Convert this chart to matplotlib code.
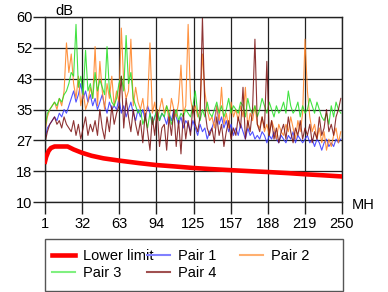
import numpy as np
import matplotlib
matplotlib.use("Agg")
import matplotlib.pyplot as plt
from matplotlib.patches import Rectangle

plt.rcParams["font.family"] = ["Liberation Sans", "DejaVu Sans"]

# frequency grid of the pair traces (MHz)
freq = np.arange(1, 250, 2)

pair1 = [
    27, 30, 31, 32, 33, 32, 34, 33, 35, 34,
    36, 38, 40, 37, 39, 42, 38, 40, 37, 39,
    36, 38, 35, 37, 39, 36, 34, 37, 35, 36,
    35, 38, 34, 36, 33, 35, 37, 34, 32, 35,
    33, 35, 32, 36, 34, 31, 33, 35, 32, 34,
    33, 31, 34, 32, 35, 33, 31, 33, 30, 32,
    31, 29, 32, 30, 28, 31, 29, 30, 27, 29,
    30, 32, 36, 31, 33, 30, 32, 29, 31, 28,
    30, 28, 31, 29, 27, 30, 28, 29, 27, 28,
    27, 29, 28, 26, 28, 27, 29, 27, 26, 28,
    27, 26, 28, 27, 29, 26, 28, 27, 26, 27,
    28, 26, 27, 25, 27, 26, 24, 26, 27, 25,
    26, 25, 27, 26, 27,
]
pair2 = [
    29, 33, 35, 36, 37, 35, 38, 36, 40, 53,
    45, 50, 42, 38, 44, 36, 40, 35, 37, 41,
    38, 52, 36, 48, 40, 35, 42, 38, 44, 36,
    40, 37, 57, 42, 38, 40, 54, 36, 41, 37,
    35, 38, 33, 36, 53, 34, 37, 32, 35, 38,
    34, 36, 32, 38, 35, 33, 37, 47, 34, 36,
    58, 38, 34, 36, 33, 35, 50, 40, 35, 32,
    33, 30, 36, 32, 41, 31, 34, 30, 37, 33,
    35, 32, 36, 33, 41, 30, 34, 32, 36, 31,
    30, 33, 29, 31, 28, 32, 30, 27, 31, 29,
    28, 31, 29, 33, 30, 27, 32, 29, 34, 54,
    40, 33, 29, 31, 27, 30, 26, 29, 24, 27,
    25, 28, 30, 26, 29,
]
pair3 = [
    30, 34, 35, 36, 37, 36, 38, 37, 39, 40,
    42, 45, 44, 58, 41, 44, 39, 51, 40, 42,
    38, 45, 40, 43, 41, 39, 52, 40, 37, 36,
    38, 42, 44, 40, 55, 42, 45, 38, 36, 34,
    35, 31, 33, 30, 34, 31, 33, 35, 32, 34,
    33, 36, 34, 31, 33, 35, 32, 34, 33, 35,
    34, 33, 36, 40, 34, 32, 35, 33, 37, 34,
    33, 35, 37, 34, 36, 33, 35, 38, 34, 36,
    35, 34, 37, 36, 33, 38, 35, 34, 36, 33,
    35, 38, 36, 34, 37, 35, 33, 36, 34, 35,
    37, 34, 40, 36, 34, 35, 37, 33, 36, 34,
    35, 38, 36, 34, 37, 35, 33, 32, 34, 31,
    36, 33, 37, 35, 34,
]
pair4 = [
    26, 29, 31, 32, 33, 31, 32, 30, 33, 31,
    30, 29, 32, 28, 31, 27, 30, 33, 28, 31,
    29, 32, 28, 35, 30, 27, 33, 29, 36, 31,
    34, 36, 44, 30, 38, 33, 29, 35, 31, 28,
    32, 26, 34, 29, 24, 33, 28, 35, 25, 30,
    31, 24, 33, 28, 35, 25, 32, 23, 34, 27,
    32, 28, 36, 31, 29, 33, 60, 35, 30, 28,
    30, 26, 33, 28, 31, 25, 29, 32, 27, 30,
    28, 33, 30, 41, 27, 32, 29, 35, 54, 31,
    29, 33, 30, 48, 28, 32, 27, 30, 26, 29,
    31, 27, 33, 29, 26, 30, 28, 32, 27, 30,
    28, 31, 26, 29, 27, 33, 28, 30, 35, 29,
    31, 28, 33, 35, 38,
]

limit_freq = [1, 2, 4, 6, 9, 14, 20, 25, 32, 40, 50, 63, 80, 94, 110,
              125, 140, 157, 175, 188, 205, 219, 235, 250]
limit_db = [20.9, 22.2, 23.8, 24.6, 25.0, 25.0, 25.0, 24.2, 23.3, 22.5,
            21.8, 21.2, 20.5, 20.0, 19.6, 19.2, 18.9, 18.6, 18.3, 18.1,
            17.8, 17.5, 17.2, 16.9]

xtick_labels = ["1", "32", "63", "94", "125", "157", "188", "219", "250"]
ytick_labels = ["10", "18", "27", "35", "43", "52", "60"]

W, H = 388, 292
fs = 10.5
fig = plt.figure(figsize=(W / 100, H / 100), dpi=100)
ax = fig.add_axes([45 / W, 1 - 202 / H, 297 / W, 185 / H])

h_limit, = ax.plot(limit_freq, limit_db, color="#ff0000", lw=3.3, zorder=5)
h1, = ax.plot(freq, pair1, color="#3333ff", lw=0.8, alpha=0.85)
h2, = ax.plot(freq, pair2, color="#ff8020", lw=0.8, alpha=0.85)
h3, = ax.plot(freq, pair3, color="#22dd22", lw=0.8, alpha=0.85)
h4, = ax.plot(freq, pair4, color="#7a1010", lw=0.8, alpha=0.85)

ax.set_xlim(1, 250)
ax.set_ylim(10, 60)
ax.set_xticks(np.linspace(1, 250, len(xtick_labels)))
ax.set_xticklabels(xtick_labels)
ax.set_yticks(np.linspace(10, 60, len(ytick_labels)))
ax.set_yticklabels(ytick_labels)
ax.tick_params(length=8.5, width=1, color="#222222", labelsize=fs, pad=0.5)
ax.tick_params(axis="x", pad=2)
ax.grid(color="#222222", lw=0.9)
for s in ax.spines.values():
    s.set_color("#222222")
    s.set_linewidth(1)

fig.text(55 / W, 1 - 11 / H, "dB", fontsize=fs, va="center", ha="left")
fig.text(352 / W, 1 - 205 / H, "MH", fontsize=fs, va="center", ha="left")

# legend frame + three columns
fig.patches.append(Rectangle((45 / W, 1 - 291 / H), 298 / W, 52 / H,
                             transform=fig.transFigure, fill=False,
                             edgecolor="#555555", lw=1))
legend_colors = {h_limit: "#ff0000", h1: "#8080ff", h2: "#ffb070",
                 h3: "#80f080", h4: "#a05050"}
cols = [
    ([h_limit, h3], ["Lower limit", "Pair 3"], 52),
    ([h1, h4], ["Pair 1", "Pair 4"], 147),
    ([h2], ["Pair 2"], 240),
]
for handles, labels, x0 in cols:
    leg = fig.legend(handles, labels, loc="upper left",
                     bbox_to_anchor=(x0 / W, 1 - 249 / H), frameon=False,
                     fontsize=fs, borderpad=0, borderaxespad=0,
                     handlelength=1.6, handletextpad=0.55, labelspacing=0.22)
    for line, h in zip(leg.get_lines(), handles):
        line.set_alpha(1)
        line.set_color(legend_colors[h])
        if h is not h_limit:
            line.set_linewidth(1.5)

fig.savefig("out.png", dpi=100)
